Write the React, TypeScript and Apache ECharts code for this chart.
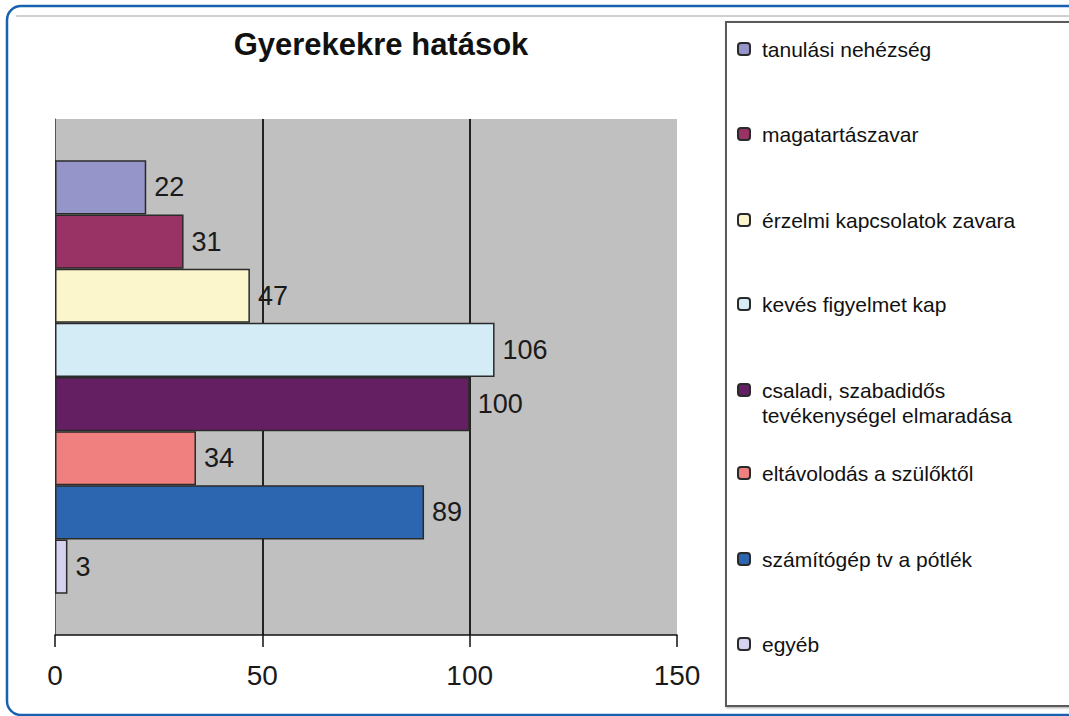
import React, { useEffect, useRef } from "react";
import * as echarts from "echarts";

const chartTitle = "Gyerekekre hatások";
const categories = [""];
const seriesNames = [
  "tanulási nehézség",
  "magatartászavar",
  "érzelmi kapcsolatok zavara",
  "kevés figyelmet kap",
  "csaladi, szabadidős tevékenységel elmaradása",
  "eltávolodás a szülőktől",
  "számítógép tv a pótlék",
  "egyéb",
];
const values = [22, 31, 47, 106, 100, 34, 89, 3];
const colors = [
  "#9595c9",
  "#993366",
  "#fbf6cc",
  "#d4ecf6",
  "#641e62",
  "#f08080",
  "#2c66b0",
  "#d4d2ee",
];
const axisMin = 0;
const axisMax = 150;
const axisInterval = 50;

const FONT = "'Liberation Sans', Arial, sans-serif";
// legend icon centres (layout)
const legendCenters = [49, 134, 220, 304, 390, 473, 559, 644];

export default function App() {
  const ref = useRef<HTMLDivElement>(null);

  useEffect(() => {
    document.body.style.margin = "0";
    const chart = echarts.init(ref.current!, null, { renderer: "svg" });

    const LH = 25;
    const legends = seriesNames.map((name, i) => {
      const multi = name.indexOf("szabadidős ") >= 0;
      const c = legendCenters[i];
      return {
        show: true,
        orient: "vertical",
        left: 737,
        top: multi ? c - 1.5 * LH : c - 0.5 * LH,
        padding: 0,
        itemWidth: 12,
        itemHeight: 12,
        selectedMode: false,
        data: [name],
        formatter: (n: string) =>
          n.indexOf("szabadidős ") >= 0 ? "\n" + n.replace("szabadidős ", "szabadidős\n") : n,
        textStyle: {
          fontSize: 21,
          lineHeight: LH,
          color: "#111",
          fontFamily: FONT,
          padding: [0, 0, 0, 7],
        },
      };
    });

    chart.setOption({
      animation: false,
      backgroundColor: "#ffffff",
      title: {
        text: chartTitle,
        left: 376,
        top: 24,
        textAlign: "center",
        textStyle: {
          fontSize: 31,
          fontWeight: "bold",
          color: "#111",
          fontFamily: FONT,
        },
      },
      legend: legends,
      graphic: [
        {
          type: "rect",
          shape: { x: 7, y: 6, width: 1110, height: 709, r: 14 },
          style: { fill: "none", stroke: "#1762b0", lineWidth: 2.5 },
          silent: true,
        },
        {
          type: "line",
          shape: { x1: 16, y1: 16, x2: 1069, y2: 16 },
          style: { stroke: "#a0a0a0", lineWidth: 1 },
          silent: true,
        },
        {
          type: "rect",
          shape: { x: 726, y: 22, width: 400, height: 684 },
          style: {
            fill: "#ffffff",
            stroke: "#5a5a5a",
            lineWidth: 2,
            shadowBlur: 2,
            shadowOffsetX: 1,
            shadowOffsetY: 1,
            shadowColor: "rgba(0,0,0,0.35)",
          },
          silent: true,
        },
      ],
      grid: {
        left: 55,
        right: 1069 - 677,
        top: 119,
        bottom: 716 - 635,
        show: true,
        backgroundColor: "#c0c0c0",
        borderWidth: 0,
      },
      xAxis: {
        type: "value",
        min: axisMin,
        max: axisMax,
        interval: axisInterval,
        axisLine: { show: true, lineStyle: { color: "#111", width: 1.5 } },
        axisTick: { show: true, length: 12, lineStyle: { color: "#111", width: 1.5 } },
        axisLabel: {
          fontSize: 28,
          color: "#1a1a1a",
          fontFamily: FONT,
          margin: 26,
        },
        splitLine: {
          show: true,
          showMinLine: false,
          showMaxLine: false,
          lineStyle: { color: "#222", width: 2 },
        },
      },
      yAxis: {
        type: "category",
        data: categories,
        inverse: true,
        axisLine: { show: true, lineStyle: { color: "#555", width: 1 } },
        axisTick: { show: false },
        axisLabel: { show: false },
      },
      series: seriesNames.map((name, i) => ({
        name,
        type: "bar",
        data: [values[i]],
        barGap: "0%",
        barCategoryGap: "16%",
        itemStyle: {
          color: colors[i],
          borderColor: "#2a2a2a",
          borderWidth: 1.5,
        },
        label: {
          show: true,
          position: "right",
          distance: 8,
          fontSize: 27,
          color: "#1a1a1a",
          fontFamily: FONT,
        },
      })),
    });

    return () => chart.dispose();
  }, []);

  return <div ref={ref} style={{ width: 1069, height: 716 }} />;
}
